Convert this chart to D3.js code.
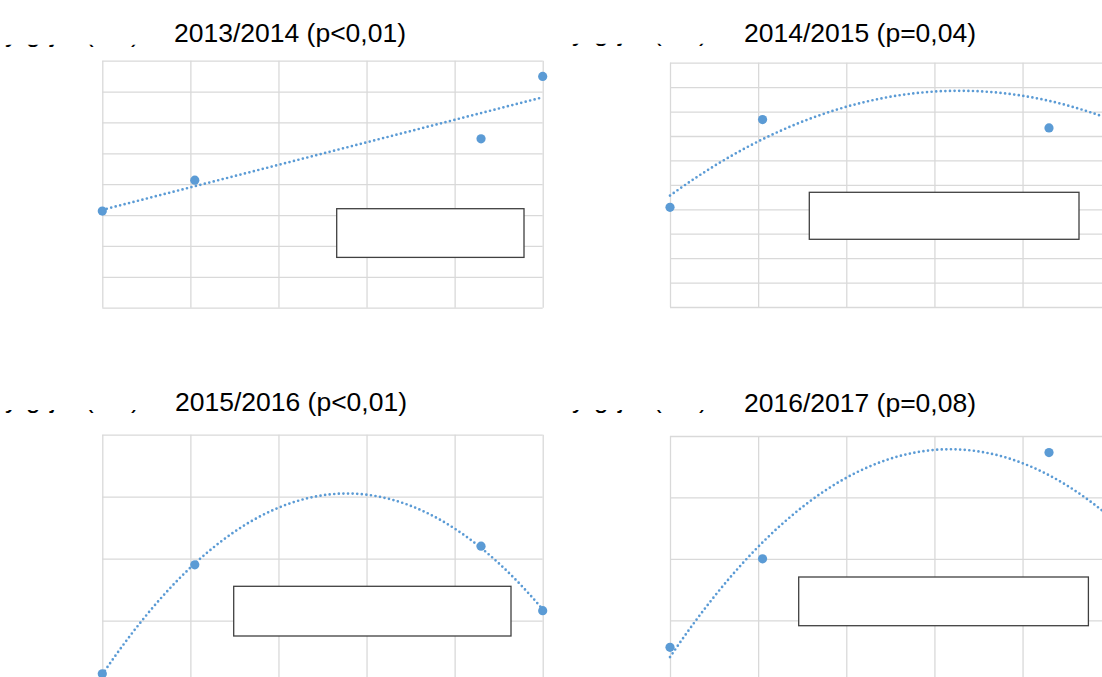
<!DOCTYPE html>
<html>
<head>
<meta charset="utf-8">
<script src="https://cdn.jsdelivr.net/npm/d3@7"></script>
<style>
  html, body { margin: 0; padding: 0; background: #fff; }
  svg { display: block; }
</style>
</head>
<body>
<svg id="chart" width="1102" height="677"></svg>
<script>
// Sampling positions shared by all four seasons (x axis, grid units)
const xValues = [0, 1.05, 4.3, 5];
const xTicks = [0, 1, 2, 3, 4, 5];

// Season titles
const seasonTitles = [
  "2013/2014 (p<0,01)",
  "2014/2015 (p=0,04)",
  "2015/2016 (p<0,01)",
  "2016/2017 (p=0,08)"
];

// Measured values per season
const values1314 = [3.13, 4.13, 5.47, 7.49];
const values1415 = [4.08, 7.67, 7.33, 8.46];
const values1516 = [0.14, 1.90, 2.20, 1.16];
const values1617 = [0.56, 2.00, 3.73, 2.41];

// Trend degree (1 = linear, 2 = quadratic) and y axis maximum per season
const trendDegree = [1, 2, 2, 2];
const yMax = [8, 10, 4, 4];

// Truncated axis title glyphs that peek out above each plot
const axisTitleGlyphs = ["y", "g", "j", "(", ")"];

const seriesList = [values1314, values1415, values1516, values1617];

// ---- layout ----
const layout = [
  { left: 102.3, right: 542.7, top: 60.7, bottom: 307.7, titleX: 290, titleY: 41.5,
    box: [336.7, 208.7, 187.3, 48.7], glyphBase: 42.4, glyphX: [5, 26, 50, 85, 131] },
  { left: 670, right: 1110.7, top: 62.7, bottom: 307, titleX: 860, titleY: 42,
    box: [809.3, 192.3, 269.7, 47], glyphBase: 41.4, glyphX: [572, 594, 618, 653, 699] },
  { left: 102.3, right: 542.7, top: 434.7, bottom: 682.5, titleX: 291, titleY: 411,
    box: [233.7, 586.3, 277.3, 49.7], glyphBase: 407.6, glyphX: [5, 26, 50, 85, 131] },
  { left: 670, right: 1110.7, top: 436, bottom: 681.7, titleX: 860, titleY: 411.5,
    box: [798.7, 577, 289.7, 48.7], glyphBase: 407.6, glyphX: [572, 594, 618, 653, 699] }
];

const BLUE = "#5b9bd5";
const GRID = "#d9d9d9";
const FONT = "Arial, 'Liberation Sans', Helvetica, sans-serif";

// Least squares polynomial fit, returns coefficients [a0, a1, ...]
function polyFit(xs, ys, degree) {
  const n = degree + 1;
  const A = Array.from({ length: n }, () => new Array(n + 1).fill(0));
  for (let r = 0; r < n; r++) {
    for (let c = 0; c < n; c++) {
      A[r][c] = d3.sum(xs, x => Math.pow(x, r + c));
    }
    A[r][n] = d3.sum(xs, (x, i) => ys[i] * Math.pow(x, r));
  }
  for (let i = 0; i < n; i++) {
    let p = i;
    for (let k = i + 1; k < n; k++) if (Math.abs(A[k][i]) > Math.abs(A[p][i])) p = k;
    [A[i], A[p]] = [A[p], A[i]];
    for (let k = 0; k < n; k++) {
      if (k === i) continue;
      const f = A[k][i] / A[i][i];
      for (let c = i; c <= n; c++) A[k][c] -= f * A[i][c];
    }
  }
  return A.map((row, i) => row[n] / row[i]);
}

const svg = d3.select("#chart");

seriesList.forEach((ys, idx) => {
  const L = layout[idx];
  const g = svg.append("g");

  const x = d3.scaleLinear().domain([0, 5]).range([L.left, L.right]);
  const y = d3.scaleLinear().domain([0, yMax[idx]]).range([L.bottom, L.top]);

  // clipped axis title remnant
  const clipId = "glyphclip" + idx;
  svg.append("clipPath").attr("id", clipId)
    .append("rect")
    .attr("x", L.glyphX[0] - 10).attr("y", L.glyphBase + 2.4)
    .attr("width", 180).attr("height", 10);
  const t = g.append("text")
    .attr("clip-path", `url(#${clipId})`)
    .attr("font-family", FONT).attr("font-size", 26).attr("fill", "#000")
    .attr("y", L.glyphBase);
  axisTitleGlyphs.forEach((ch, i) => {
    t.append("tspan").attr("x", L.glyphX[i]).text(ch);
  });

  // title
  g.append("text")
    .attr("x", L.titleX).attr("y", L.titleY)
    .attr("text-anchor", "middle")
    .attr("font-family", FONT).attr("font-size", 26.5)
    .attr("fill", "#000")
    .text(seasonTitles[idx]);

  // horizontal gridlines
  g.append("g").attr("transform", `translate(${L.left},0)`)
    .call(d3.axisLeft(y).ticks(yMax[idx]).tickSize(-(L.right - L.left)).tickFormat(""))
    .call(a => a.select(".domain").remove())
    .call(a => a.selectAll("line").attr("stroke", GRID).attr("stroke-width", 1.3));

  // vertical gridlines
  g.append("g").attr("transform", `translate(0,${L.bottom})`)
    .call(d3.axisBottom(x).tickValues(xTicks).tickSize(-(L.bottom - L.top)).tickFormat(""))
    .call(a => a.select(".domain").remove())
    .call(a => a.selectAll("line").attr("stroke", GRID).attr("stroke-width", 1.3));

  // trend line
  const coef = polyFit(xValues, ys, trendDegree[idx]);
  const f = v => coef.reduce((s, c, p) => s + c * Math.pow(v, p), 0);
  const samples = d3.range(0, 5.0001, 0.02).map(v => [v, f(v)]);
  g.append("path")
    .datum(samples)
    .attr("fill", "none")
    .attr("stroke", BLUE)
    .attr("stroke-width", 2.7)
    .attr("stroke-linecap", "round")
    .attr("stroke-dasharray", "0 4.6")
    .attr("d", d3.line().x(d => x(d[0])).y(d => y(d[1])));

  // markers
  g.selectAll("circle.pt")
    .data(ys.map((v, i) => [xValues[i], v]))
    .join("circle")
    .attr("class", "pt")
    .attr("cx", d => x(d[0]))
    .attr("cy", d => y(d[1]))
    .attr("r", 4.6)
    .attr("fill", BLUE);

  // empty label box
  g.append("rect")
    .attr("x", L.box[0]).attr("y", L.box[1])
    .attr("width", L.box[2]).attr("height", L.box[3])
    .attr("fill", "#fff")
    .attr("stroke", "#404040")
    .attr("stroke-width", 1.3);
});
</script>
</body>
</html>
